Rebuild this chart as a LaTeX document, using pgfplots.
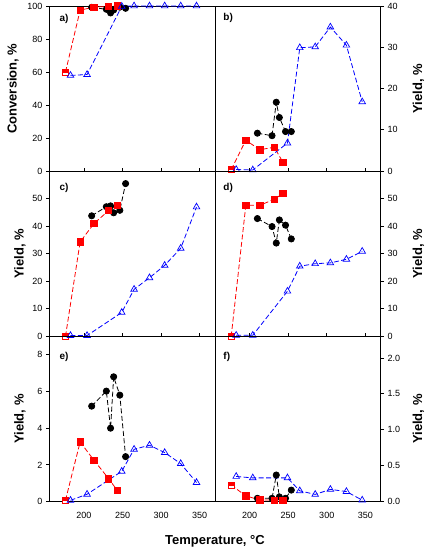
\documentclass[border=0pt]{standalone}
\usepackage{pgfplots}
\pgfplotsset{compat=1.18}
\usepackage{fontspec}
\setmainfont{Liberation Sans}
\definecolor{myred}{RGB}{255,0,0}
\definecolor{myblue}{RGB}{0,0,255}
\pgfdeclareplotmark{halfsq}{%
  \pgfpathrectangle{\pgfpoint{-\pgfplotmarksize}{-\pgfplotmarksize}}{\pgfpoint{2\pgfplotmarksize}{2\pgfplotmarksize}}%
  \pgfusepathqfillstroke
  \pgfpathrectangle{\pgfpoint{-\pgfplotmarksize}{0pt}}{\pgfpoint{2\pgfplotmarksize}{\pgfplotmarksize}}%
  \pgfsetfillcolor{myred}%
  \pgfusepathqfillstroke
}
\tikzset{plab/.style={anchor=north west, inner sep=0pt, font=\fontsize{10bp}{12bp}\selectfont\bfseries}}
\pgfplotsset{
  panel/.style={scale only axis, width=165.7bp, height=165.2bp,
    xmin=155, xmax=370, xtick={200,250,300,350}, xtick pos=bottom, xtick align=inside,
    xticklabels={,,,}, clip=false,
    axis line style={line width=0.8bp, black},
    tick style={black, line width=0.8bp}, major tick length=3.3bp,
    ticklabel style={font=\fontsize{9bp}{10bp}\selectfont},
    label style={font=\fontsize{13bp}{15bp}\selectfont\bfseries}},
  leftcol/.style={ytick pos=left, ytick align=outside, yticklabel pos=left},
  rightcol/.style={ytick pos=right, ytick align=outside, yticklabel pos=right},
  xlab/.style={xticklabels={200,250,300,350}, xtick style={draw=none},
    xticklabel style={yshift=-7bp}},
  blackser/.style={black, line width=0.8bp, dash pattern=on 5bp off 2.5bp,
    mark=*, mark size=3.1bp, mark options={solid, fill=black}},
  redser/.style={myred, line width=0.8bp, dash pattern=on 5bp off 2.5bp,
    mark=halfsq, mark size=3.2bp, mark options={solid, draw=myred, fill=white, line width=0.7bp}},
  blueser/.style={myblue, line width=0.8bp, dash pattern=on 5bp off 2.5bp,
    mark=triangle, mark size=3.8bp, mark options={solid, draw=myblue, fill=white, line width=0.7bp}},
}
\begin{document}
\begin{tikzpicture}
\path[use as bounding box] (0,0) rectangle (429bp,550bp);
% ---------- a ----------
\begin{axis}[panel, leftcol, at={(49.3bp,378.8bp)}, anchor=south west,
  ymin=0, ymax=100, ytick={0,20,40,60,80,100}, yticklabels={0,20,40,60,80,100},
  ylabel={Conversion, \%}, ylabel style={at={(axis description cs:-0.219,0.5)}, anchor=center}]
\addplot[blackser] coordinates {(210,99.2) (229,98) (234.5,95.8) (238.5,97.6) (246.5,99.3) (254,98.6)};
\addplot[redser] coordinates {(176,60) (195,97.5) (213,99.3) (232,99.8) (243,100)};
\addplot[blueser] coordinates {(182.5,58) (204,58.5) (249,99.8) (265,100) (285,100) (304.7,100) (325.5,100) (346,100)};
\node[plab] at (rel axis cs:0.0604,0.9516) {a)};
\end{axis}
% ---------- b ----------
\begin{axis}[panel, rightcol, at={(215bp,378.8bp)}, anchor=south west,
  ymin=0, ymax=40, ytick={0,10,20,30,40}, yticklabels={0,10,20,30,40},
  ylabel={Yield, \%}, ylabel style={at={(axis description cs:1.2275,0.5)}, anchor=center}]
\addplot[blackser] coordinates {(210,9.2) (229,8.6) (234.5,16.7) (238.5,13.0) (246.5,9.6) (254,9.6)};
\addplot[redser] coordinates {(176,0.4) (195,7.5) (213,5.2) (232,5.8) (243,2.2)};
\addplot[blueser] coordinates {(182.5,0.4) (204,0.3) (249,6.8) (265,29.9) (285,30.1) (304.7,34.9) (325.5,30.5) (346,16.8)};
\node[plab] at (rel axis cs:0.050,0.956) {b)};
\end{axis}
% ---------- c ----------
\begin{axis}[panel, leftcol, at={(49.3bp,213.6bp)}, anchor=south west,
  ymin=0, ymax=60, ytick={0,10,20,30,40,50}, yticklabels={0,10,20,30,40,50},
  ylabel={Yield, \%}, ylabel style={at={(axis description cs:-0.177,0.5)}, anchor=center}]
\addplot[blackser] coordinates {(210,43.8) (229,47.1) (234.5,47.4) (238.5,44.9) (246.5,45.8) (254,55.5)};
\addplot[redser] coordinates {(176,0) (195,34.3) (213,41) (232,45.7) (243,47.7)};
\addplot[blueser] coordinates {(182.5,0.3) (204,0.3) (249,8.7) (265,17.1) (285,21.3) (304.7,25.8) (325.5,32) (346,47)};
\node[plab] at (rel axis cs:0.0604,0.930) {c)};
\end{axis}
% ---------- d ----------
\begin{axis}[panel, rightcol, at={(215bp,213.6bp)}, anchor=south west,
  ymin=0, ymax=60, ytick={0,10,20,30,40,50}, yticklabels={0,10,20,30,40,50},
  ylabel={Yield, \%}, ylabel style={at={(axis description cs:1.2275,0.5)}, anchor=center}]
\addplot[blackser] coordinates {(210,42.8) (229,39.9) (234.5,33.9) (238.5,42.3) (246.5,40.4) (254,35.4)};
\addplot[redser] coordinates {(176,0) (195,47.6) (213,47.6) (232,49.8) (243,51.9)};
\addplot[blueser] coordinates {(182.5,0.4) (204,0.4) (249,16.4) (265,25.5) (285,26.4) (304.7,26.7) (325.5,28) (346,30.9)};
\node[plab] at (rel axis cs:0.050,0.930) {d)};
\end{axis}
% ---------- e ----------
\begin{axis}[panel, leftcol, xlab, at={(49.3bp,48.4bp)}, anchor=south west,
  ymin=0, ymax=9, ytick={0,2,4,6,8}, yticklabels={0,2,4,6,8},
  ylabel={Yield, \%}, ylabel style={at={(axis description cs:-0.177,0.5)}, anchor=center},
  xlabel={Temperature, °C}, xlabel style={at={(axis description cs:1.0,-0.257)}, anchor=base}]
\addplot[blackser] coordinates {(210,5.2) (229,6.02) (234.5,4.0) (238.5,6.8) (246.5,5.8) (254,2.45)};
\addplot[redser] coordinates {(176,0.07) (195,3.25) (213,2.25) (232,1.25) (243,0.62)};
\addplot[blueser] coordinates {(182.5,0.07) (204,0.4) (249,1.65) (265,2.85) (285,3.07) (304.7,2.67) (325.5,2.07) (346,1.04)};
\node[plab] at (rel axis cs:0.0604,0.907) {e)};
\end{axis}
% ---------- f ----------
\begin{axis}[panel, rightcol, xlab, at={(215bp,48.4bp)}, anchor=south west,
  ymin=0, ymax=2.3, ytick={0,0.5,1,1.5,2}, yticklabels={0.0,0.5,1.0,1.5,2.0},
  ylabel={Yield, \%}, ylabel style={at={(axis description cs:1.2275,0.5)}, anchor=center}]
\addplot[blackser] coordinates {(210,0.046) (229,0.046) (234.5,0.37) (238.5,0.065) (246.5,0.046) (254,0.16)};
\addplot[redser] coordinates {(176,0.23) (195,0.08) (213,0.023) (232,0.02) (243,0.02)};
\addplot[blueser] coordinates {(182.5,0.35) (204,0.33) (249,0.33) (265,0.15) (285,0.10) (304.7,0.17) (325.5,0.14) (346,0.02)};
\node[plab] at (rel axis cs:0.050,0.907) {f)};
\end{axis}
\end{tikzpicture}
\end{document}
